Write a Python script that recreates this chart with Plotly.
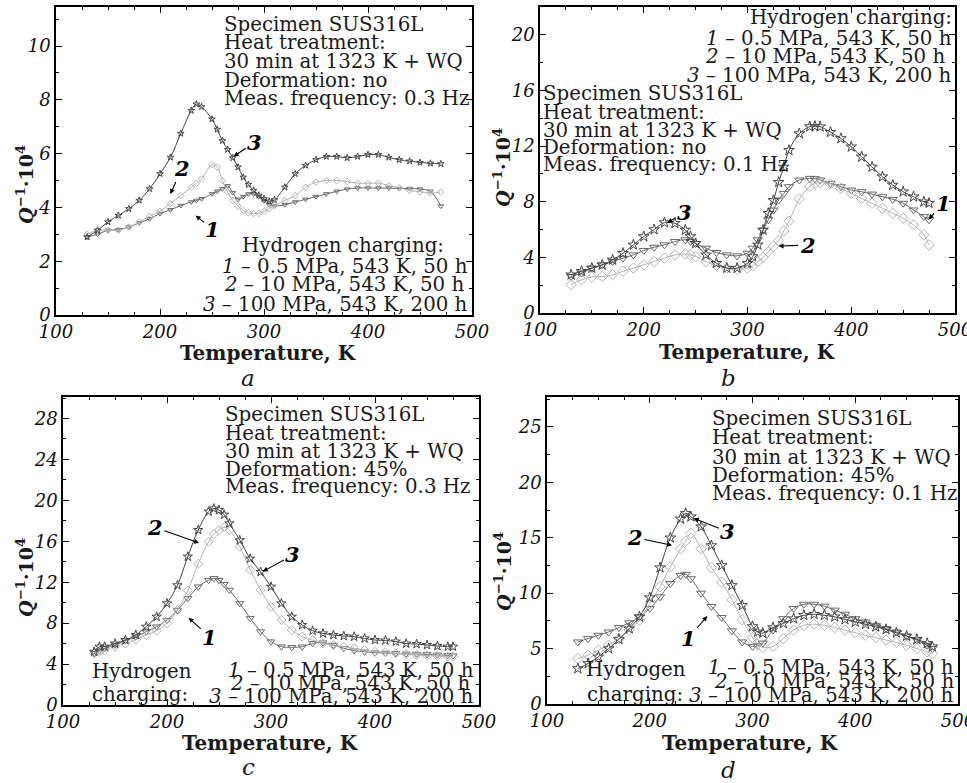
import plotly.graph_objects as go

# ---------------- data ----------------
T_a = [130,140,150,160,170,180,190,200,210,220,230,235,240,250,255,260,265,270,275,280,285,290,295,300,305,310,320,330,340,350,360,370,380,390,400,410,420,430,440,450,460,470]
a_s1 = [2.9,3.0,3.15,3.17,3.27,3.42,3.58,3.77,3.91,4.07,4.2,4.26,4.32,4.5,4.6,4.69,4.8,4.55,4.3,4.4,4.5,4.5,4.4,4.25,4.1,4.05,4.1,4.2,4.3,4.4,4.5,4.6,4.68,4.72,4.72,4.72,4.72,4.7,4.7,4.68,4.6,4.05]
a_s2 = [3.0,3.15,3.15,3.15,3.27,3.46,3.67,3.86,4.14,4.44,4.75,4.9,5.06,5.59,5.5,5.0,4.57,4.26,4.05,3.89,3.8,3.77,3.78,3.85,3.95,4.07,4.26,4.44,4.75,4.94,5.0,5.0,4.96,4.9,4.9,4.9,4.81,4.73,4.63,4.58,4.53,4.57]
a_s3 = [2.9,3.15,3.46,3.7,3.95,4.26,4.69,5.25,5.86,6.75,7.6,7.84,7.74,7.28,6.9,6.48,6.15,5.84,5.5,5.12,4.85,4.63,4.45,4.32,4.23,4.28,4.75,5.25,5.56,5.77,5.89,5.89,5.84,5.89,5.96,5.96,5.86,5.77,5.72,5.67,5.64,5.62]

T_b = [130,140,150,160,170,180,190,200,210,220,230,240,245,250,260,270,280,290,300,305,310,315,320,325,330,335,340,350,360,365,370,380,390,400,410,420,430,440,450,460,470,475]
b_s1 = [2.63,2.87,3.23,3.46,3.7,3.94,4.18,4.49,4.73,4.9,5.14,5.26,5.15,5.0,4.66,4.35,4.18,4.11,4.3,4.66,5.26,5.95,6.7,7.4,8.12,8.6,9.08,9.56,9.68,9.66,9.56,9.32,9.08,8.84,8.72,8.55,8.36,8.17,7.89,7.41,6.93,6.7]
b_s2 = [2.03,2.39,2.58,2.63,2.75,3.0,3.23,3.46,3.7,3.94,4.18,4.25,4.18,4.06,3.7,3.42,3.23,3.15,3.23,3.4,3.7,4.0,4.4,4.8,5.2,5.9,6.6,8.2,9.1,9.3,9.37,9.27,8.96,8.6,8.24,7.89,7.53,7.17,6.81,6.33,5.62,4.9]
b_s3 = [2.75,3.0,3.23,3.46,3.82,4.3,4.9,5.5,6.0,6.5,6.45,5.97,5.5,5.0,4.18,3.58,3.23,3.23,3.58,4.06,4.9,5.97,7.17,8.1,9.4,10.5,11.7,12.9,13.4,13.43,13.4,13.0,12.55,11.95,11.23,10.5,9.8,9.2,8.72,8.36,8.0,7.9]

T_c = [130,135,140,150,160,170,180,190,200,210,220,230,240,245,250,255,260,270,280,290,300,310,320,330,340,350,360,370,380,390,400,410,420,430,440,450,460,470,475]
c_s1 = [5.05,5.3,5.54,5.86,6.29,6.68,7.17,7.65,8.3,9.28,10.42,11.56,12.2,12.38,12.2,11.8,11.24,9.93,8.47,7.17,6.19,5.7,5.64,5.7,6.03,6.09,5.86,5.54,5.31,5.2,5.11,5.08,5.05,5.0,4.98,4.95,4.9,4.85,4.82]
c_s2 = [5.05,5.2,5.37,5.7,6.0,6.4,6.84,7.26,7.98,9.28,11.2,13.8,15.96,16.7,17.1,17.36,17.1,15.47,13.2,11.24,9.6,8.3,7.33,6.68,6.35,6.03,5.86,5.7,5.54,5.37,5.2,5.15,5.05,4.98,4.89,4.82,4.79,4.72,4.72]
c_s3 = [5.2,5.7,5.7,6.0,6.35,6.84,7.65,8.63,9.93,11.7,14.5,17.1,18.9,19.2,19.05,18.6,17.75,16.1,14.3,13.0,11.56,9.93,8.63,7.82,7.26,7.0,6.84,6.74,6.68,6.5,6.35,6.3,6.2,6.0,5.96,5.86,5.77,5.7,5.7]

T_d = [130,140,150,160,170,180,190,200,210,220,230,235,240,250,260,270,280,290,300,305,310,320,330,340,350,360,370,380,390,400,410,420,430,440,450,460,470,475]
d_s1 = [5.6,5.9,6.2,6.5,6.9,7.33,7.87,8.62,9.67,10.87,11.6,11.7,11.3,10.0,8.8,7.8,6.6,5.6,5.2,5.25,5.5,6.67,7.7,8.62,9.0,9.0,8.83,8.47,8.1,7.7,7.4,7.1,6.8,6.5,6.13,5.77,5.3,5.0]
d_s2 = [4.1,4.4,4.86,5.3,5.9,6.67,7.57,9.07,10.57,12.37,14.0,14.7,15.4,14.0,12.3,11.0,9.4,7.6,6.0,5.4,5.1,5.2,5.9,6.67,7.1,7.2,7.1,6.9,6.67,6.43,6.2,6.0,5.77,5.56,5.3,5.0,4.7,4.56]
d_s3 = [3.2,3.66,4.26,5.0,5.83,6.8,7.87,9.6,12.3,15.0,16.7,17.2,16.9,16.0,14.3,12.5,10.7,8.9,7.0,6.5,6.4,6.9,7.27,7.7,8.0,8.1,8.0,7.87,7.63,7.4,7.2,6.97,6.73,6.43,6.13,5.83,5.47,5.17]

x_ticks = [100, 200, 300, 400, 500]
y_max = {"a": 11.45, "b": 22, "c": 30.1, "d": 27.7}
y_dtick = {"a": 2, "b": 4, "c": 4, "d": 5}

W, H = 967, 783
FONT = "DejaVu Serif"

# panel frame pixel boxes (left, right, top, bottom)
boxes = {"a": (56, 472, 7, 315), "b": (540, 955, 7, 313),
         "c": (63, 479, 397, 705), "d": (547, 958, 397, 704)}
axmap = {"a": ("x", "y"), "b": ("x2", "y2"), "c": ("x3", "y3"), "d": ("x4", "y4")}

series_style = {
    1: dict(symbol="triangle-down-open", color="#6a6a6a"),
    2: dict(symbol="diamond-open", color="#b4b4b4"),
    3: dict(symbol="star-open", color="#454545"),
}
msize = {"a": 5, "b": 8, "c": 7, "d": 8}

fig = go.Figure()
panels = {"a": (T_a, [a_s1, a_s2, a_s3]), "b": (T_b, [b_s1, b_s2, b_s3]),
          "c": (T_c, [c_s1, c_s2, c_s3]), "d": (T_d, [d_s1, d_s2, d_s3])}
for key, (T, ss) in panels.items():
    xa, ya = axmap[key]
    for i, s in enumerate(ss, start=1):
        st = series_style[i]
        fig.add_trace(go.Scatter(
            x=T, y=s, mode="lines+markers", xaxis=xa, yaxis=ya, showlegend=False,
            line=dict(color=st["color"], width=1, shape="spline"),
            marker=dict(symbol=st["symbol"], size=msize[key], color=st["color"],
                        line=dict(width=1, color=st["color"]))))

layout = dict(width=W, height=H, margin=dict(l=0, r=0, t=0, b=0, autoexpand=False),
              paper_bgcolor="white", plot_bgcolor="white", showlegend=False,
              template="none")
for key, (l, r, t, b) in boxes.items():
    xa, ya = axmap[key]
    xname = "xaxis" + xa[1:]
    yname = "yaxis" + ya[1:]
    common = dict(showgrid=False, zeroline=False, showline=True, linecolor="black",
                  linewidth=1.5, mirror="ticks", ticks="inside", ticklen=6,
                  tickcolor="black", tickwidth=1.2, automargin=False,
                  ticklabeloverflow="allow",
                  tickfont=dict(family=FONT, size=18, color="#111", style="italic"))
    layout[xname] = dict(common, domain=[l / W, r / W], range=[100, 500],
                         tickvals=x_ticks, anchor=ya,
                         minor=dict(dtick=25, ticks="inside", ticklen=3, tickcolor="black"))
    layout[yname] = dict(common, domain=[1 - b / H, 1 - t / H], range=[0, y_max[key]],
                         dtick=y_dtick[key], tick0=0, anchor=xa,
                         minor=dict(dtick=y_dtick[key] / 2, ticks="inside", ticklen=3, tickcolor="black"))
fig.update_layout(**layout)

ann = []
def txt(px, py, text, xanchor="left", size=19.8, italic=False, bold=False, angle=0):
    ann.append(dict(x=px / W, y=1 - py / H, xref="paper", yref="paper", text=text,
                    showarrow=False, xanchor=xanchor, yanchor="middle", textangle=angle,
                    font=dict(family=FONT, size=size, color="#1a1a1a",
                              style="italic" if italic else "normal",
                              weight="bold" if bold else "normal")))

def spec_block(px, ys, deform, freq):
    lines = ["Specimen SUS316L", "Heat treatment:", "30 min at 1323 K + WQ",
             "Deformation: " + deform, "Meas. frequency: " + freq]
    for yy, s in zip(ys, lines):
        txt(px, yy, s)

L1 = "<i>1</i> – 0.5 MPa, 543 K, 50 h"
L2 = "<i>2</i> – 10 MPa, 543 K, 50 h"
L3 = "<i>3</i> – 100 MPa, 543 K, 200 h"

# panel a
spec_block(222, [24, 43, 62, 81, 99], "no", "0.3 Hz")
txt(446, 245, "Hydrogen charging:", "right")
txt(470, 266, L1, "right"); txt(466, 285, L2, "right"); txt(470, 304, L3, "right")
# panel b
txt(954, 17, "Hydrogen charging:", "right")
txt(954, 38, L1, "right"); txt(947, 56, L2, "right"); txt(954, 75, L3, "right")
spec_block(541, [93, 112, 130, 147, 164], "no", "0.1 Hz")
# panel c
spec_block(223, [414, 433, 451, 469, 487], "45%", "0.3 Hz")
txt(90, 671, "Hydrogen"); txt(90, 694, "charging:")
txt(476, 670, L1, "right"); txt(472, 683, L2, "right"); txt(476, 696, L3, "right")
# panel d
spec_block(710, [418, 438, 457, 475, 493], "45%", "0.1 Hz")
txt(584, 669, "Hydrogen"); txt(585, 694, "charging:")
txt(956, 667, L1, "right"); txt(956, 681, L2, "right"); txt(956, 695, L3, "right")

# axis titles and panel letters
for key, (cx, cy), (yx, yy), (lx, ly) in [
        ("a", (268, 353), (25, 185), (248, 378)),
        ("b", (747, 352), (502, 168), (728, 378)),
        ("c", (270, 743), (25, 578), (248, 767)),
        ("d", (750, 743), (503, 572), (728, 770))]:
    txt(cx, cy, "Temperature, K", "center", size=20, bold=True)
    txt(yx, yy, "<i>Q</i><sup>−1</sup>·10<sup>4</sup>", "center", size=19, bold=True, angle=-90)
    txt(lx, ly, key, "center", size=23, italic=True)

# curve labels with arrows: (panel, label, head_x, head_y, ax, ay)
arrows = [("a", "3", 270, 5.87, 22, -15), ("a", "2", 209.6, 4.46, 12, -27), ("a", "1", 233.6, 3.72, 18, 15),
          ("b", "3", 222, 6.46, 18, -11), ("b", "2", 329, 4.81, 30, -1), ("b", "1", 474, 6.68, 15, -17),
          ("c", "3", 291.3, 13.0, 31, -17), ("c", "2", 231.7, 15.8, -45, -16), ("c", "1", 220, 8.6, 22, 20),
          ("d", "3", 242, 16.8, 35, 14), ("d", "2", 222.6, 14.3, -38, -8), ("d", "1", 256.7, 8.0, -20, 23)]
for key, lab, hx, hy, axo, ayo in arrows:
    xa, ya = axmap[key]
    ann.append(dict(x=hx, y=hy, xref=xa, yref=ya, text=lab, showarrow=True,
                    ax=axo, ay=ayo, arrowhead=2, arrowsize=0.9, arrowwidth=1.1,
                    arrowcolor="black", standoff=1,
                    font=dict(family=FONT, size=21, color="black", style="italic", weight="bold")))

fig.update_layout(annotations=ann)
fig.write_html("out.html", config={"displayModeBar": False},
               post_script="document.body.style.margin='0';document.body.style.padding='0';")
